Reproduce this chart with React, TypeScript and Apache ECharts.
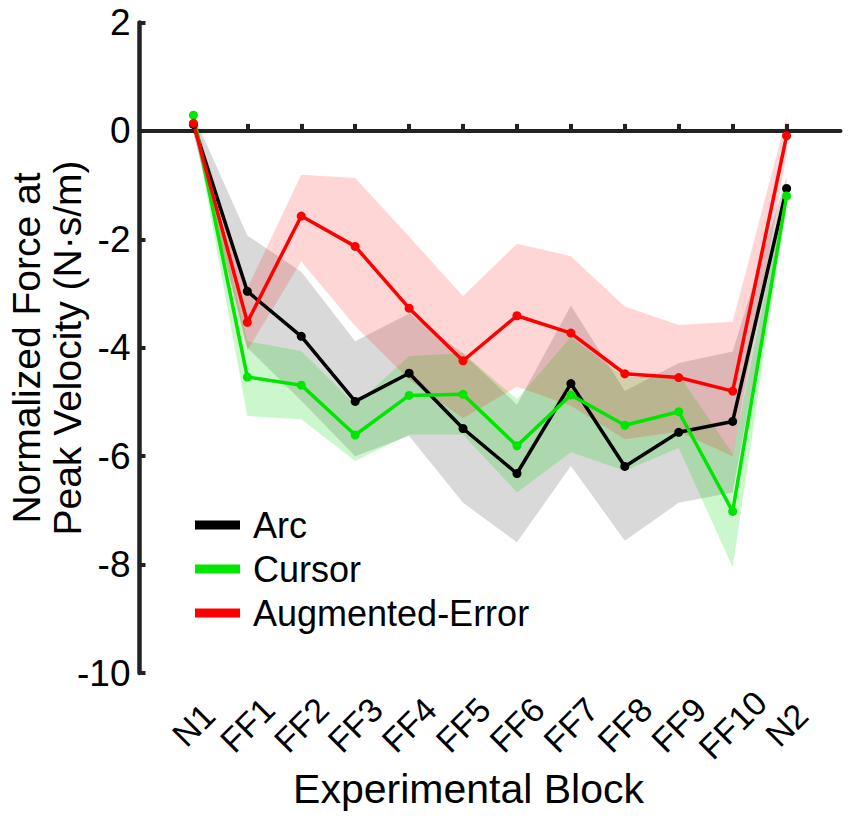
import React, { useEffect, useRef } from 'react';
import * as echarts from 'echarts';

const categories = ['N1', 'FF1', 'FF2', 'FF3', 'FF4', 'FF5', 'FF6', 'FF7', 'FF8', 'FF9', 'FF10', 'N2'];
const categoryPositions = [1, 2, 3, 4, 5, 6, 7, 8, 9, 10, 11, 12];

const arcMean = [0.12, -2.96, -3.79, -4.99, -4.47, -5.49, -6.32, -4.66, -6.19, -5.56, -5.36, -1.06];
const arcUpper = [0.3, -1.93, -2.6, -3.88, -3.37, -4.1, -5.05, -3.22, -4.8, -4.28, -4.07, -0.85];
const arcLower = [-0.05, -4.0, -4.98, -6.0, -5.63, -6.86, -7.59, -6.18, -7.56, -6.86, -6.67, -1.3];

const cursorMean = [0.29, -4.54, -4.69, -5.61, -4.88, -4.86, -5.81, -4.87, -5.43, -5.18, -7.02, -1.2];
const cursorUpper = [0.42, -3.88, -4.06, -5.05, -4.15, -4.1, -4.95, -3.8, -4.55, -4.5, -5.95, -1.05];
const cursorLower = [0.15, -5.26, -5.32, -6.09, -5.6, -5.6, -6.67, -5.93, -6.27, -5.85, -8.05, -1.35];

const aeMean = [0.14, -3.53, -1.57, -2.13, -3.27, -4.24, -3.41, -3.73, -4.48, -4.55, -4.8, -0.09];
const aeUpper = [0.28, -2.9, -0.81, -0.87, -1.95, -3.05, -2.08, -2.31, -3.24, -3.58, -3.52, 0.25];
const aeLower = [-0.02, -4.05, -2.41, -3.6, -4.59, -5.3, -4.72, -5.07, -5.69, -5.55, -6.0, -0.45];

const seriesNames = ['Arc', 'Cursor', 'Augmented-Error'];
const FONT = '"Liberation Sans", Arial, Helvetica, sans-serif';

function bandSeries(upper: number[], lower: number[], fill: string) {
  return {
    type: 'custom',
    xAxisIndex: 0,
    yAxisIndex: 0,
    silent: true,
    z: 1,
    data: upper.map((u, i) => [categoryPositions[i], u, lower[i]]),
    encode: { x: 0, y: [1, 2] },
    renderItem: (params: any, api: any) => {
      if (params.dataIndex !== 0) return null;
      const pts: number[][] = [];
      for (let i = 0; i < upper.length; i++) pts.push(api.coord([categoryPositions[i], upper[i]]));
      for (let i = lower.length - 1; i >= 0; i--) pts.push(api.coord([categoryPositions[i], lower[i]]));
      return { type: 'polygon', shape: { points: pts }, style: { fill } };
    },
  };
}

function lineSeries(name: string, values: number[], color: string) {
  return {
    type: 'line',
    name,
    xAxisIndex: 0,
    yAxisIndex: 0,
    z: 3,
    data: values.map((v, i) => [categoryPositions[i], v]),
    symbol: 'circle',
    symbolSize: 9,
    showSymbol: true,
    lineStyle: { color, width: 3.5 },
    itemStyle: { color },
  };
}

export default function App() {
  const ref = useRef<HTMLDivElement>(null);
  useEffect(() => {
    if (!ref.current) return;
    const chart = echarts.init(ref.current, null, { renderer: 'svg' });
    const option: any = {
      animation: false,
      backgroundColor: '#ffffff',
      grid: { left: 139.5, top: 22.5, width: 701, height: 650.5, containLabel: false },
      legend: {
        data: seriesNames,
        orient: 'vertical',
        left: 190,
        top: 498,
        icon: 'rect',
        itemWidth: 45,
        itemHeight: 9,
        itemGap: 0,
        selectedMode: false,
        textStyle: { fontSize: 36, lineHeight: 44, color: '#000', fontFamily: FONT, padding: [0, 0, 0, 8] },
      },
      xAxis: [
        {
          type: 'value',
          min: 0,
          max: 13,
          position: 'bottom',
          axisLine: { show: true, onZero: true, lineStyle: { color: '#222', width: 4 } },
          axisTick: { show: true, inside: true, length: 7, customValues: categoryPositions, lineStyle: { color: '#222', width: 4 } },
          axisLabel: { show: false },
          splitLine: { show: false },
        },
        {
          type: 'value',
          min: 0,
          max: 13,
          position: 'bottom',
          axisLine: { show: false, onZero: false },
          axisTick: { show: false },
          splitLine: { show: false },
          axisLabel: {
            customValues: categoryPositions,
            formatter: (v: number) => categories[Math.round(v) - 1] ?? '',
            rotate: 45,
            align: 'center',
            verticalAlign: 'middle',
            margin: 52,
            fontSize: 34,
            color: '#000',
            fontFamily: FONT,
          },
        },
      ],
      yAxis: {
        type: 'value',
        min: -10,
        max: 2,
        interval: 2,
        axisLine: { show: true, onZero: false, lineStyle: { color: '#222', width: 4.5 } },
        axisTick: { show: true, inside: true, length: 6, lineStyle: { color: '#222', width: 4 } },
        axisLabel: { fontSize: 37, color: '#000', margin: 9, fontFamily: FONT },
        splitLine: { show: false },
      },
      graphic: [
        {
          type: 'text',
          x: 47,
          y: 348,
          rotation: Math.PI / 2,
          style: {
            text: 'Normalized Force at\nPeak Velocity (N·s/m)',
            align: 'center',
            verticalAlign: 'middle',
            fontSize: 39,
            lineHeight: 41,
            fontFamily: FONT,
            fill: '#000',
          },
        },
        {
          type: 'text',
          x: 468.5,
          y: 789,
          style: {
            text: 'Experimental Block',
            align: 'center',
            verticalAlign: 'middle',
            fontSize: 41,
            fontFamily: FONT,
            fill: '#000',
          },
        },
      ],
      series: [
        bandSeries(arcUpper, arcLower, 'rgba(0,0,0,0.15)'),
        bandSeries(cursorUpper, cursorLower, 'rgba(0,215,0,0.2)'),
        bandSeries(aeUpper, aeLower, 'rgba(255,0,0,0.16)'),
        lineSeries('Arc', arcMean, '#000000'),
        lineSeries('Cursor', cursorMean, '#00e600'),
        lineSeries('Augmented-Error', aeMean, '#ff0000'),
      ],
    };
    chart.setOption(option);
    return () => chart.dispose();
  }, []);
  return (
    <div
      ref={ref}
      style={{ position: 'fixed', left: 0, top: 0, width: 850, height: 821, background: '#fff' }}
    />
  );
}
